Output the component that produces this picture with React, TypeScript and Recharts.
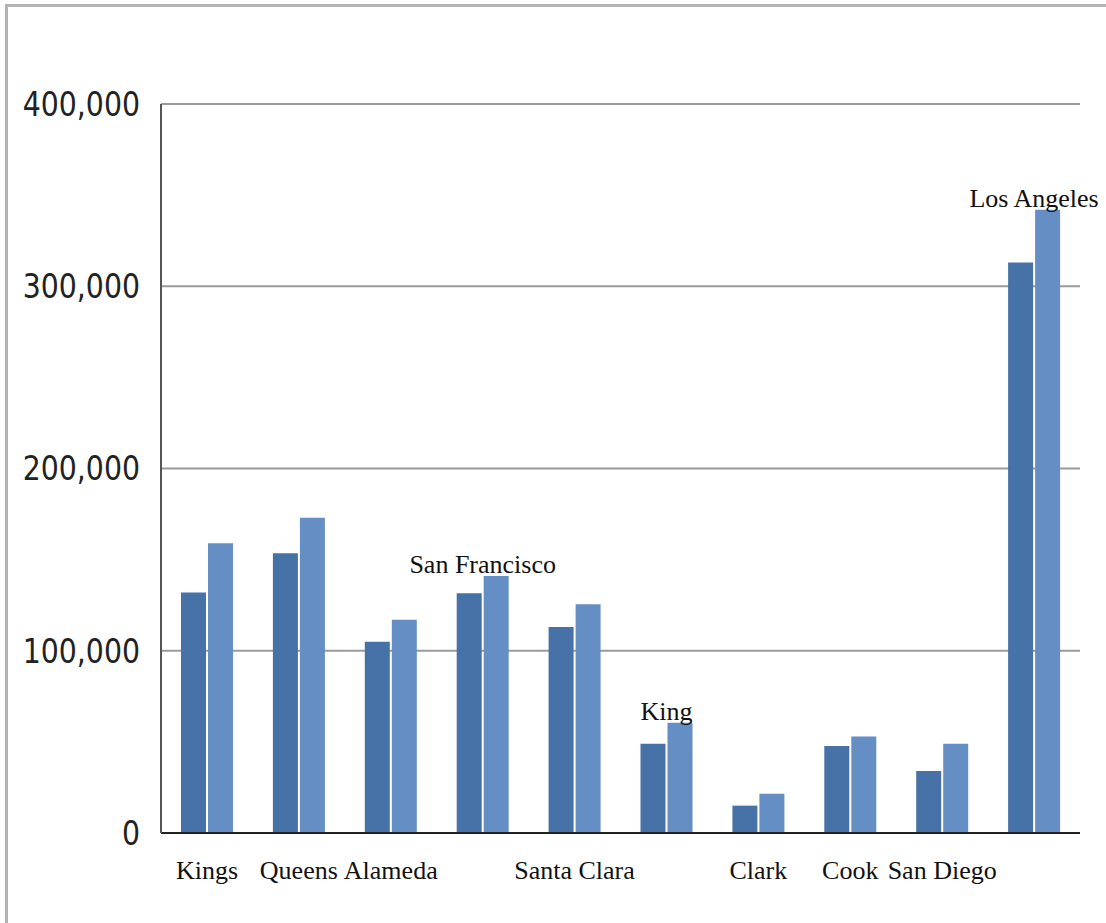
import { BarChart, Bar, XAxis, YAxis, CartesianGrid, LabelList } from 'recharts'

const categories = [
  'Kings',
  'Queens',
  'Alameda',
  'San Francisco',
  'Santa Clara',
  'King',
  'Clark',
  'Cook',
  'San Diego',
  'Los Angeles',
]
// names written above their bars instead of under the axis
const callouts = ['San Francisco', 'King', 'Los Angeles']
const seriesA = [132000, 153500, 105000, 131500, 113000, 49000, 15000, 47800, 34000, 313000]
const seriesB = [159000, 173000, 117000, 141000, 125500, 60500, 21500, 53000, 49000, 342000]
const yTicks = [0, 100000, 200000, 300000, 400000]

const data = categories.map((name, i) => ({ name, a: seriesA[i], b: seriesB[i] }))

const serif = "'Liberation Serif', 'Times New Roman', serif"
const sans = "'DejaVu Sans', sans-serif"

const fmt = (v: number) => v.toLocaleString('en-US')

function XTick({ x, y, payload }: any) {
  const label = callouts.includes(payload.value) ? '' : payload.value
  return (
    <text x={x} y={y} dy="0.71em" textAnchor="middle" fontFamily={serif} fontSize={26} fill="#111">
      {label}
    </text>
  )
}

// condensed numerals: squeeze the text horizontally around its right edge
function YTick({ x, y, payload }: any) {
  return (
    <text
      transform={`translate(${x},${y}) scale(0.86,1)`}
      dy="0.36em"
      textAnchor="end"
      fontFamily={sans}
      fontSize={33}
      fill="#222"
    >
      {fmt(payload.value)}
    </text>
  )
}

function Callout({ x, y, index }: any) {
  const name = categories[index]
  if (!callouts.includes(name)) return null
  return (
    <text x={x - 1} y={y - 3} textAnchor="middle" fontFamily={serif} fontSize={26} fill="#111">
      {name}
    </text>
  )
}

export default function App() {
  return (
    <div style={{ position: 'absolute', left: 0, top: 0, width: 1106, height: 923, background: '#fff' }}>
      <div
        style={{
          position: 'absolute',
          left: 5,
          top: 4,
          right: 0,
          bottom: 0,
          borderTop: '3px solid #b4b4b4',
          borderLeft: '3px solid #b4b4b4',
        }}
      />
      <BarChart
        width={1106}
        height={923}
        data={data}
        margin={{ top: 104, right: 26, left: 0, bottom: 0 }}
        barSize={25}
        barGap={2}
        style={{ position: 'absolute', left: 0, top: 0 }}
      >
        <CartesianGrid vertical={false} stroke="#9a9a9a" strokeWidth={2} />
        <XAxis
          dataKey="name"
          height={90}
          tickLine={false}
          tickMargin={22}
          interval={0}
          axisLine={{ stroke: '#222', strokeWidth: 2 }}
          tick={<XTick />}
        />
        <YAxis
          width={161}
          domain={[0, 400000]}
          ticks={yTicks}
          tickLine={false}
          tickMargin={15}
          axisLine={{ stroke: '#555', strokeWidth: 2 }}
          tick={<YTick />}
        />
        <Bar dataKey="a" fill="#4672a8" isAnimationActive={false} />
        <Bar dataKey="b" fill="#658fc4" isAnimationActive={false}>
          <LabelList dataKey="b" content={<Callout />} />
        </Bar>
      </BarChart>
    </div>
  )
}
